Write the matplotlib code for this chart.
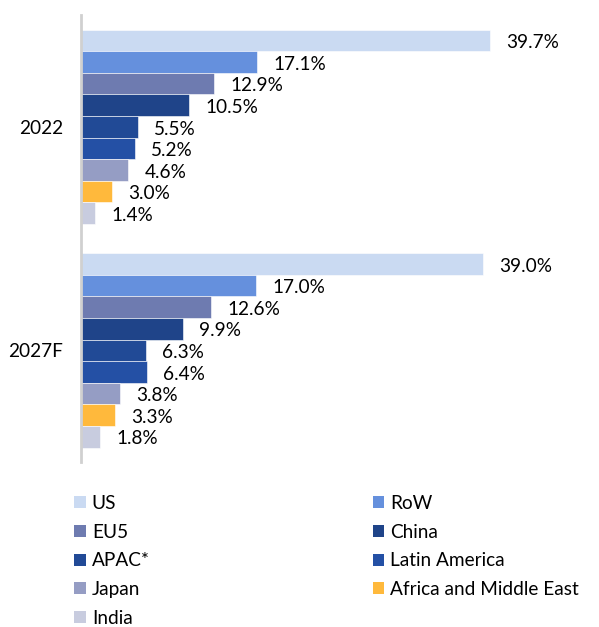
import matplotlib
matplotlib.use("Agg")
import matplotlib.pyplot as plt
from matplotlib.patches import Patch
import numpy as np

plt.rcParams['font.family'] = ['Lato', 'DejaVu Sans']

years = ["2022", "2027F"]
regions = ["US", "RoW", "EU5", "China", "APAC*", "Latin America", "Japan",
           "Africa and Middle East", "India"]
values_2022 = [39.7, 17.1, 12.9, 10.5, 5.5, 5.2, 4.6, 3.0, 1.4]
values_2027 = [39.0, 17.0, 12.6, 9.9, 6.3, 6.4, 3.8, 3.3, 1.8]
colors = ["#CADAF2", "#6590DD", "#6E7BB0", "#1F4489", "#214A96", "#2450A5",
          "#959DC4", "#FFB93C", "#C8CCDF"]

data = np.array([values_2022, values_2027])
FS = 13.7

fig = plt.figure(figsize=(5.99, 6.27), dpi=100)
ax = fig.add_axes([0.1352, 0.263, 0.80, 0.713])

n = len(regions)
h = 0.0966
ypos = np.arange(len(years))
for i, (reg, col) in enumerate(zip(regions, colors)):
    y = ypos + (i - (n - 1) / 2) * h
    vals = data[:, i]
    ax.barh(y, vals, height=h, color=col, edgecolor="white", linewidth=0.4)
    for yy, v in zip(y, vals):
        ax.text(v + 1.6, yy + 0.01, f"{v:.1f}%", va="center", ha="left",
                fontsize=FS, color="black")

ax.set_ylim(1.5, -0.5)
ax.set_xlim(0, 46.5)
ax.set_yticks(ypos)
ax.set_yticklabels(years, fontsize=FS, color="black")
ax.tick_params(axis="y", length=0, pad=13)
ax.set_xticks([])
for s in ["top", "right", "bottom"]:
    ax.spines[s].set_visible(False)
ax.spines["left"].set_color("#D0D0D0")
ax.spines["left"].set_linewidth(2)

handles = [Patch(facecolor=c, edgecolor="none") for c in colors]
col1 = [0, 2, 4, 6, 8]
col2 = [1, 3, 5, 7]
common = dict(loc="upper left", frameon=False, fontsize=FS, handlelength=0.6,
              handleheight=0.6, handletextpad=0.32, labelspacing=0.62,
              borderaxespad=0, borderpad=0, labelcolor="black")
leg1 = fig.legend([handles[i] for i in col1], [regions[i] for i in col1],
                  bbox_to_anchor=(0.124, 0.211), **common)
leg2 = fig.legend([handles[i] for i in col2], [regions[i] for i in col2],
                  bbox_to_anchor=(0.622, 0.211), **common)

fig.savefig("out.png", dpi=100)
